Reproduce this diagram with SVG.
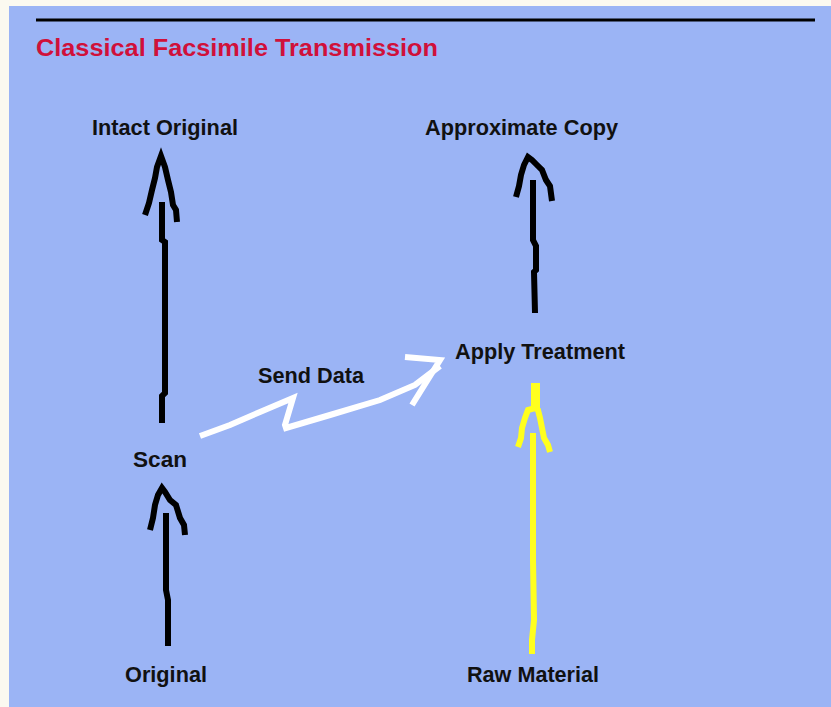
<svg xmlns="http://www.w3.org/2000/svg" width="831" height="707" viewBox="0 0 831 707">
<style>
.lbl{font-family:"Liberation Sans",Arial,sans-serif;font-weight:bold;font-size:22px;fill:#111}
.title{font-family:"Liberation Sans",Arial,sans-serif;font-weight:bold;font-size:23px;fill:#d0103a}
.blk{fill:none;stroke:#000;stroke-width:6;stroke-linejoin:miter;stroke-linecap:butt}
.yel{fill:none;stroke:#ffff1e;stroke-width:6;stroke-linecap:butt}
.wht{fill:none;stroke:#fff;stroke-width:6;stroke-linecap:butt}
</style>
<rect x="0" y="0" width="831" height="707" fill="#fbf9f0"/>
<rect x="9" y="6" width="822" height="701" fill="#9bb4f5"/>
<line x1="36" y1="20" x2="815" y2="20" stroke="#000" stroke-width="3"/>
<text class="title" x="36" y="56" textLength="402" lengthAdjust="spacingAndGlyphs">Classical Facsimile Transmission</text>
<g id="intact-original"><text class="lbl" x="92" y="135" textLength="146" lengthAdjust="spacingAndGlyphs">Intact Original</text></g>
<g id="approximate-copy"><text class="lbl" x="425" y="135" textLength="193" lengthAdjust="spacingAndGlyphs">Approximate Copy</text></g>
<g id="apply-treatment"><text class="lbl" x="455" y="359" textLength="170" lengthAdjust="spacingAndGlyphs">Apply Treatment</text></g>
<g id="scan"><text class="lbl" x="133" y="467" textLength="54" lengthAdjust="spacingAndGlyphs">Scan</text></g>
<g id="original"><text class="lbl" x="125" y="682" textLength="82" lengthAdjust="spacingAndGlyphs">Original</text></g>
<g id="raw-material"><text class="lbl" x="467" y="682" textLength="132" lengthAdjust="spacingAndGlyphs">Raw Material</text></g>
<g id="connectors">
<polyline class="blk" points="162,202 162,240 165,242 165,393 162,396 162,423"/>
<polyline class="blk" points="145,215 149,203 152,190 155,178 157,167 161,156 165,167 168,180 171,192 173,205 176,210 177,222"/>
<polyline class="blk" points="533,180 533,240 536,246 536,270 534,272 535,313"/>
<polyline class="blk" points="516,197 519,186 521,175 524,165 528,157 532,160 537,165 542,170 546,180 550,186 552,201"/>
<polyline class="blk" points="166,513 166,590 168,600 168,646"/>
<polyline class="blk" points="150,530 153,518 155,505 158,495 162,488 165,492 170,500 176,505 180,518 184,525 185,535"/>
<polyline class="yel" points="533,433 533,560 534,620 532,640 532,654"/>
<polyline class="yel" points="518,447 521,438 522,428 525,418 528,410 535,408 538,410 540,418 542,428 544,438 548,445 550,452"/>
<rect x="531" y="383" width="9" height="27" fill="#ffff1e"/>
<text class="lbl" x="258" y="383" textLength="106" lengthAdjust="spacingAndGlyphs">Send Data</text>
<polyline class="wht" points="200,436 230,425 260,412 293,398 285,425 286,428 330,415 380,400 415,385 440,366"/>
<polyline class="wht" points="405,357 440,360 412,405"/>
</g>
</svg>
